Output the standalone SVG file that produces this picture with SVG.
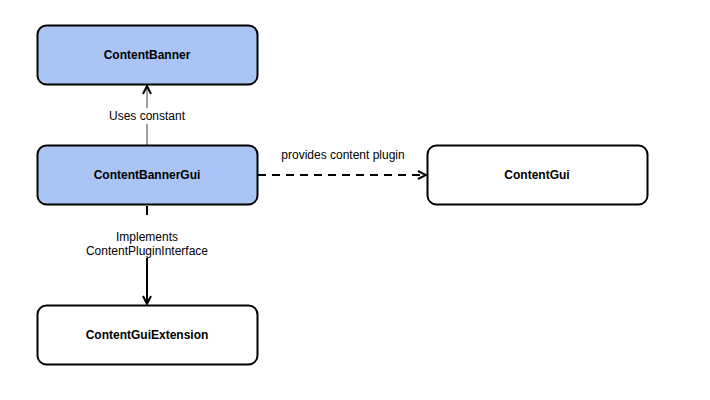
<svg xmlns="http://www.w3.org/2000/svg" width="710" height="400" viewBox="0 0 710 400">
<style>
.node rect{stroke:#000;stroke-width:2}
.blue rect{fill:#a9c4f5}
.white rect{fill:#fff}
.node text{font-family:"Liberation Sans",Arial,sans-serif;font-size:12px;font-weight:bold;text-anchor:middle;fill:#000}
.lbl{font-family:"Liberation Sans",Arial,sans-serif;font-size:12px;text-anchor:middle;fill:#000}
.bg{fill:#fff}
</style>
<defs>
<marker id="arr" viewBox="0 0 10 10" refX="9" refY="5" markerWidth="10" markerHeight="10" markerUnits="userSpaceOnUse" orient="auto">
<path d="M1,1 L9,5 L1,9" fill="none" stroke="#000" stroke-width="2"/>
</marker>
</defs>
<rect width="710" height="400" fill="#fff"/>
<g id="connectors">
<line x1="147" y1="145" x2="147" y2="86" stroke="#808080" stroke-width="1.5" marker-end="url(#arr)"/>
<rect class="bg" x="106" y="108" width="82" height="16"/>
<text class="lbl" x="147" y="120">Uses constant</text>
<line x1="258" y1="175" x2="426" y2="175" stroke="#000" stroke-width="2" stroke-dasharray="8 6" marker-end="url(#arr)"/>
<text class="lbl" x="343" y="159">provides content plugin</text>
<line x1="147" y1="206" x2="147" y2="304" stroke="#000" stroke-width="2" marker-end="url(#arr)"/>
<rect class="bg" x="86" y="215" width="122" height="43"/>
<text class="lbl" x="147" y="241">Implements</text>
<text class="lbl" x="147" y="255">ContentPluginInterface</text>
</g>
<g id="ContentBanner" class="node blue">
<rect x="37.5" y="25.5" width="220" height="59" rx="9"/>
<text x="147" y="59">ContentBanner</text>
</g>
<g id="ContentBannerGui" class="node blue">
<rect x="37.5" y="145.5" width="220" height="59" rx="9"/>
<text x="147" y="179">ContentBannerGui</text>
</g>
<g id="ContentGui" class="node white">
<rect x="427.5" y="145.5" width="220" height="59" rx="9"/>
<text x="537" y="179">ContentGui</text>
</g>
<g id="ContentGuiExtension" class="node white">
<rect x="37.5" y="305.5" width="220" height="59" rx="9"/>
<text x="147" y="339">ContentGuiExtension</text>
</g>
</svg>
